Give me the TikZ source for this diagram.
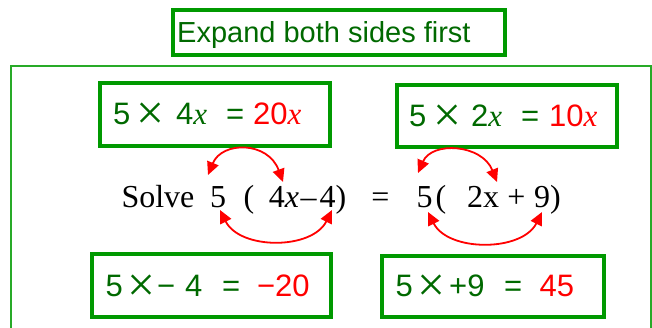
\documentclass[tikz,border=0pt]{standalone}
\usepackage{fontspec}
\setmainfont{Liberation Sans}
\newfontfamily\tnr{Liberation Serif}
\usetikzlibrary{arrows.meta}
\definecolor{boxgreen}{RGB}{0,153,0}
\definecolor{outergreen}{RGB}{40,170,40}
\definecolor{txtgreen}{RGB}{0,105,0}
\definecolor{myred}{RGB}{255,0,0}
\newcommand\xv{{\tnr\itshape x}}
\newcommand\tok[2]{\makebox[0pt][l]{\hspace{#1pt}#2}}
\newcommand\tms{\raisebox{-5pt}{\scalebox{1.6}{\tnr ×}}}
\tikzset{
  stepbox/.style={draw=boxgreen, line width=4pt, rectangle, inner sep=0pt},
  sanstxt/.style={anchor=base west, inner sep=0pt, text=txtgreen, font=\fontsize{29}{34}\selectfont},
  boxtxt/.style={anchor=base west, inner sep=0pt, text=txtgreen, font=\fontsize{31}{36}\selectfont},
  soltxt/.style={anchor=base, inner sep=0pt, text=black, font=\tnr\fontsize{32}{38}\selectfont},
  redarc/.style={draw=myred, line width=1.8pt, {Triangle[length=13pt,width=12pt]}-{Triangle[length=13pt,width=12pt]}}
}
\begin{document}
\begin{tikzpicture}[x=1pt,y=-1pt]
\useasboundingbox (0,0) rectangle (652,327);
% title
\node[stepbox, line width=3.5pt, minimum width=332pt, minimum height=45pt] (title) at (339,32.5) {};
\node[sanstxt] (titletxt) at (177,42) {Expand both sides first};
% outer frame
\draw[outergreen, line width=2pt] (11,340) -- (11,66) -- (651,66) -- (651,340);
% boxes
\node[stepbox, minimum width=230pt, minimum height=63pt] (b1) at (215,114.5) {};
\node[stepbox, minimum width=220pt, minimum height=62pt] (b2) at (507,116) {};
\node[stepbox, minimum width=239pt, minimum height=63pt] (b3) at (211.5,285.5) {};
\node[stepbox, minimum width=222pt, minimum height=61pt] (b4) at (493,286.5) {};
% box texts
\node[boxtxt] (t1) at (112.5,124) {\tok{0}{5}\tok{23.5}{\tms}\tok{63}{4\xv}\tok{113}{=}\tok{140}{\textcolor{myred}{20\xv}}};
\node[boxtxt] (t2) at (408.5,126) {\tok{0}{5}\tok{24.5}{\tms}\tok{62}{2\xv}\tok{112}{=}\tok{140}{\textcolor{myred}{10\xv}}};
\node[boxtxt] (t3) at (104.8,296) {\tok{0}{5}\tok{22}{\tms}\tok{51.6}{−}\tok{79.7}{4}\tok{116.7}{=}\tok{151.6}{\textcolor{myred}{−20}}};
\node[boxtxt] (t4) at (395,296) {\tok{0}{5}\tok{22}{\tms}\tok{53.5}{+9}\tok{108.5}{=}\tok{144}{\textcolor{myred}{45}}};
% solve line
\node[soltxt] (solve) at (158,207) {Solve};
\node[soltxt] (fa) at (218,207) {5};
\node[soltxt] (pa) at (249,207) {(};
\node[soltxt] (fx) at (284,207) {4\textit{x}};
\node[soltxt] (mi) at (308.5,207) {–};
\node[soltxt] (fb) at (333,207) {4)};
\node[soltxt] (eq) at (380.5,207) {=};
\node[soltxt] (fc) at (424.5,207) {5};
\node[soltxt] (pb) at (441,207) {(};
\node[soltxt] (tx) at (483,207) {2x};
\node[soltxt] (pl) at (516.5,207) {+};
\node[soltxt] (nn) at (547.5,207) {9)};
% arrow ends
\coordinate (a1) at (208,175);
\coordinate (a2) at (283,182);
\coordinate (a3) at (418,173);
\coordinate (a4) at (497,182);
\coordinate (a5) at (220,210);
\coordinate (a6) at (332,210);
\coordinate (a7) at (428,212);
\coordinate (a8) at (542,212);
\draw[redarc] (a1) .. controls (222,141) and (268,141) .. (a2);
\draw[redarc] (a3) .. controls (432,141) and (482,144) .. (a4);
\draw[redarc] (a5) .. controls (240,250) and (312,250) .. (a6);
\draw[redarc] (a7) .. controls (448,252) and (522,252) .. (a8);
\end{tikzpicture}
\end{document}
